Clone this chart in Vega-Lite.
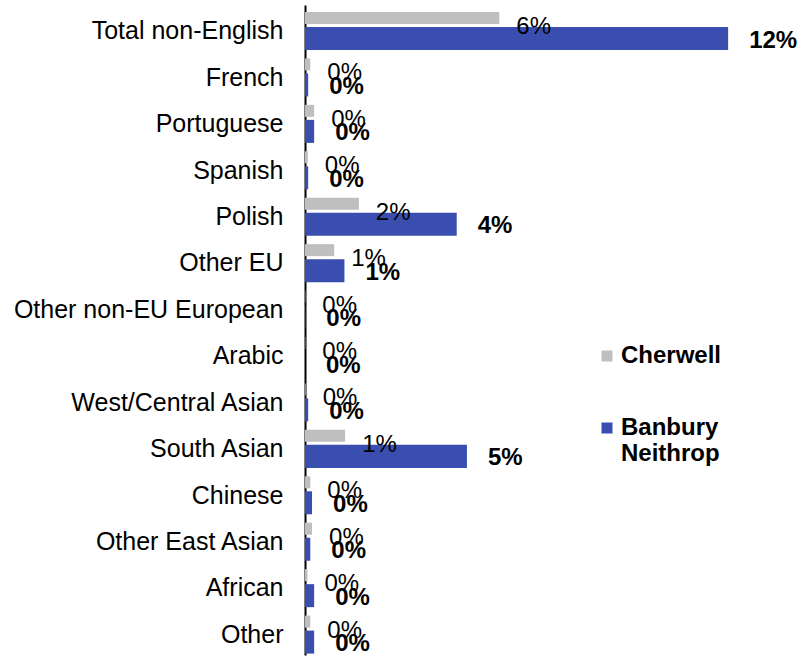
{
  "$schema": "https://vega.github.io/schema/vega-lite/v6.json",
  "autosize": {"type": "none"},
  "width": 496,
  "height": 650,
  "padding": {"left": 305, "top": 5, "right": 0, "bottom": 1},
  "background": "white",
  "config": {
    "view": {"stroke": null},
    "font": "Liberation Sans",
    "text": {"font": "Liberation Sans"}
  },
  "data": {
    "values": [
      {"language": "Total non-English", "area": "Cherwell", "value": 0.0552},
      {"language": "Total non-English", "area": "Banbury Neithrop", "value": 0.1202},
      {"language": "French", "area": "Cherwell", "value": 0.0015},
      {"language": "French", "area": "Banbury Neithrop", "value": 0.0009},
      {"language": "Portuguese", "area": "Cherwell", "value": 0.0026},
      {"language": "Portuguese", "area": "Banbury Neithrop", "value": 0.0026},
      {"language": "Spanish", "area": "Cherwell", "value": 0.0008},
      {"language": "Spanish", "area": "Banbury Neithrop", "value": 0.0009},
      {"language": "Polish", "area": "Cherwell", "value": 0.0153},
      {"language": "Polish", "area": "Banbury Neithrop", "value": 0.0431},
      {"language": "Other EU", "area": "Cherwell", "value": 0.0083},
      {"language": "Other EU", "area": "Banbury Neithrop", "value": 0.0112},
      {"language": "Other non-EU European", "area": "Cherwell", "value": 0.0001},
      {"language": "Other non-EU European", "area": "Banbury Neithrop", "value": 0.0001},
      {"language": "Arabic", "area": "Cherwell", "value": 0.0001},
      {"language": "Arabic", "area": "Banbury Neithrop", "value": 0.0},
      {"language": "West/Central Asian", "area": "Cherwell", "value": 0.0002},
      {"language": "West/Central Asian", "area": "Banbury Neithrop", "value": 0.0009},
      {"language": "South Asian", "area": "Cherwell", "value": 0.0114},
      {"language": "South Asian", "area": "Banbury Neithrop", "value": 0.046},
      {"language": "Chinese", "area": "Cherwell", "value": 0.0015},
      {"language": "Chinese", "area": "Banbury Neithrop", "value": 0.002},
      {"language": "Other East Asian", "area": "Cherwell", "value": 0.002},
      {"language": "Other East Asian", "area": "Banbury Neithrop", "value": 0.0015},
      {"language": "African", "area": "Cherwell", "value": 0.0007},
      {"language": "African", "area": "Banbury Neithrop", "value": 0.0026},
      {"language": "Other", "area": "Cherwell", "value": 0.0015},
      {"language": "Other", "area": "Banbury Neithrop", "value": 0.0026}
    ]
  },
  "encoding": {
    "y": {
      "field": "language",
      "type": "nominal",
      "sort": null,
      "scale": {"paddingInner": 0, "paddingOuter": 0},
      "axis": {
        "title": null,
        "ticks": false,
        "labelFontSize": 25,
        "labelColor": "black",
        "labelFont": "Liberation Sans",
        "labelPadding": 22,
        "labelOffset": 3,
        "labelLimit": 400,
        "domainColor": "black",
        "domainWidth": 2
      }
    },
    "x": {
      "field": "value",
      "type": "quantitative",
      "scale": {"domain": [0, 0.1409], "nice": false, "zero": true},
      "axis": null
    }
  },
  "layer": [
    {
      "transform": [{"filter": "datum.area == 'Cherwell'"}],
      "mark": {"type": "bar", "height": {"band": 0.2586}, "yOffset": -10.2},
      "encoding": {
        "color": {
          "field": "area",
          "type": "nominal",
          "scale": {"domain": ["Cherwell", "Banbury Neithrop"], "range": ["#BFBFBF", "#3A4EAF"]},
          "legend": {
            "title": null,
            "orient": "none",
            "legendX": 290,
            "legendY": 339,
            "padding": 0,
            "symbolType": "square",
            "symbolSize": 121,
            "symbolStrokeWidth": 0,
            "labelFontSize": 24,
            "labelFontWeight": "bold",
            "labelColor": "black",
            "labelFont": "Liberation Sans",
            "labelOffset": 2,
            "rowPadding": 48,
            "labelExpr": "datum.label == 'Banbury Neithrop' ? ['Banbury', 'Neithrop'] : datum.label"
          }
        }
      }
    },
    {
      "transform": [{"filter": "datum.area == 'Banbury Neithrop'"}],
      "mark": {"type": "bar", "height": {"band": 0.4957}, "yOffset": 10.3},
      "encoding": {
        "color": {"field": "area", "type": "nominal"}
      }
    },
    {
      "transform": [{"filter": "datum.area == 'Cherwell'"}],
      "mark": {"type": "text", "align": "left", "baseline": "middle", "dx": 17, "yOffset": -1.2, "fontSize": 24, "color": "black"},
      "encoding": {
        "text": {"field": "value", "type": "quantitative", "format": ".0%"}
      }
    },
    {
      "transform": [{"filter": "datum.area == 'Banbury Neithrop'"}],
      "mark": {"type": "text", "align": "left", "baseline": "middle", "dx": 21, "yOffset": 12.3, "fontSize": 24, "fontWeight": "bold", "color": "black"},
      "encoding": {
        "text": {"field": "value", "type": "quantitative", "format": ".0%"}
      }
    }
  ]
}
